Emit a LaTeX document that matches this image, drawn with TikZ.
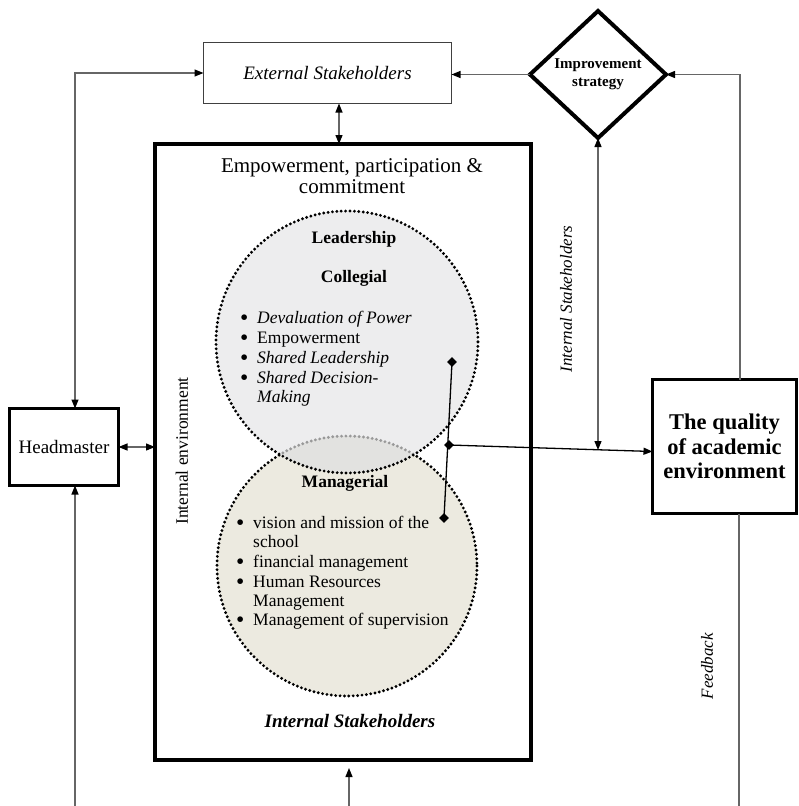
\documentclass[tikz,border=0pt]{standalone}
\usepackage{fontspec}
\setmainfont{Liberation Serif}
\usetikzlibrary{arrows.meta,shapes.geometric}
\definecolor{upfill}{HTML}{EDEDEE}
\definecolor{lowfill}{HTML}{ECEAE0}
\definecolor{ovfill}{HTML}{E2E2E0}
\newcommand{\bul}{\makebox[17pt][l]{\raisebox{-2.8pt}[0pt][0pt]{\scalebox{1.35}{\textbullet}}}}
\begin{document}
\begin{tikzpicture}[x=1pt,y=-1pt,
  >={Triangle[length=9pt,width=7pt,color=black]},
  conn/.style={draw=black!60,line width=1.2pt},
  boxthick/.style={draw=black,line width=#1,inner sep=0,outer sep=0},
  dotline/.style={line width=3.2pt,line cap=round,dash pattern=on 0pt off 4.4pt},
  item/.style={font=\fontsize{17.5}{20}\selectfont,inner sep=0,anchor=base west},
  hd/.style={font=\fontsize{17.5}{20}\selectfont\bfseries,inner sep=0,anchor=base},
  dmark/.style={diamond,fill=black,inner sep=0,minimum size=10pt}]
\useasboundingbox (0,0) rectangle (799,806);

% circles
\fill[lowfill] (347,566) circle[radius=130];
\draw[dotline] (347,566) circle[radius=130];
\fill[upfill] (347,342) circle[radius=131];
\begin{scope}
  \clip (347,342) circle[radius=131];
  \fill[ovfill] (347,566) circle[radius=130];
  \draw[dotline,black!40] (347,566) circle[radius=130];
\end{scope}
\draw[dotline] (347,342) circle[radius=131];

% boxes
\node[boxthick=1.1pt,draw=black!75,minimum width=248,minimum height=61] (ext) at (327.5,73)
  {\fontsize{19}{22}\selectfont\itshape External Stakeholders};
\node[diamond,boxthick=4pt,minimum width=136,minimum height=127,align=center,
  font=\fontsize{15}{18}\selectfont\bfseries] (imp) at (598,74.5)
  {Improvement\\strategy};
\node[boxthick=4pt,minimum width=376,minimum height=616] (main) at (343,452) {};
\node[boxthick=3pt,minimum width=109,minimum height=77] (head) at (64,447)
  {\fontsize{19}{22}\selectfont Headmaster};
\node[boxthick=3pt,minimum width=144,minimum height=134,align=center,
  font=\fontsize{22.5}{24.5}\selectfont\bfseries] (qual) at (724.5,446.5)
  {The quality\\of academic\\environment};

% texts in main box
\node[font=\fontsize{21}{21}\selectfont,inner sep=0,anchor=base] (t1) at (352,172) {Empowerment, participation \&};
\node[font=\fontsize{21}{21}\selectfont,inner sep=0,anchor=base] (t2) at (352,193) {commitment};
\node[hd] (lead) at (354,243) {Leadership};
\node[hd] (coll) at (354,282) {Collegial};
\node[item] (u1) at (240,323) {\bul\textit{Devaluation of Power}};
\node[item] (u2) at (240,343) {\bul Empowerment};
\node[item] (u3) at (240,363) {\bul\textit{Shared Leadership}};
\node[item] (u4) at (240,383) {\bul\textit{Shared Decision-}};
\node[item] (u5) at (257,402) {\textit{Making}};
\node[hd] (man) at (345,487) {Managerial};
\node[item] (l1) at (236,528) {\bul vision and mission of the};
\node[item] (l2) at (253,547) {school};
\node[item] (l3) at (236,567) {\bul financial management};
\node[item] (l4) at (236,587) {\bul Human Resources};
\node[item] (l5) at (253,606) {Management};
\node[item] (l6) at (236,625) {\bul Management of supervision};
\node[font=\fontsize{19}{22}\selectfont\bfseries\itshape,inner sep=0,anchor=base] (ist) at (350,727) {Internal Stakeholders};
\node[font=\fontsize{17.5}{20}\selectfont,inner sep=0,rotate=90] (ienv) at (182,451) {Internal environment};
\node[font=\fontsize{17}{20}\selectfont\itshape,inner sep=0,rotate=90] (istl) at (566,299) {Internal Stakeholders};
\node[font=\fontsize{17}{20}\selectfont\itshape,inner sep=0,rotate=90] (fb) at (707,666) {Feedback};

% diamond marks
\node[dmark] (D1) at (452,362) {};
\node[dmark] (M) at (449,445) {};
\node[dmark] (D2) at (444,518) {};
\draw[line width=1.3pt] (D1.center) -- (D2.center);

% coordinates
\coordinate (L) at (75,75);
\coordinate (Bl) at (75,806);
\coordinate (T) at (339,120);
\coordinate (R) at (740,75);
\coordinate (Rb) at (739,806);
\coordinate (S) at (598,450);
\coordinate (Bm) at (349,806);

% connectors
\draw[conn,<->] (L |- head.north) -- (L |- ext.west) -- (ext.west);
\draw[conn,->] (Bl) -- (Bl |- head.south);
\draw[conn,<->] (head.east) -- (head.east -| main.west);
\draw[conn,<->] (T |- ext.south) -- (T |- main.north);
\draw[conn,->] (imp.west) -- (imp.west -| ext.east);
\draw[conn,->] (R |- qual.north) -- (R |- imp.east) -- (imp.east);
\draw[conn] (Rb |- qual.south) -- (Rb);
\draw[conn,<->] (imp.south) -- (S);
\draw[line width=1.3pt,->] (M.center) -- ([yshift=-5pt]qual.west);
\draw[conn,->,shorten >=8pt] (Bm) -- (Bm |- main.south);
\end{tikzpicture}
\end{document}
